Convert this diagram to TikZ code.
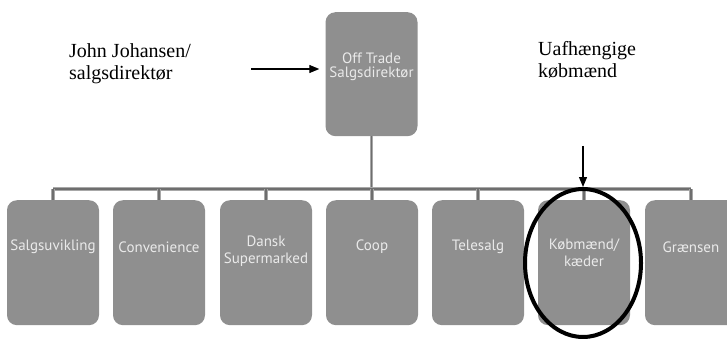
\documentclass[tikz,border=0pt]{standalone}
\usepackage{fontspec}
\setmainfont{Liberation Serif}
\newfontfamily\boxfont{PT Sans}
\usetikzlibrary{shapes.geometric,arrows.meta}
\definecolor{boxgray}{HTML}{8F8F8F}
\definecolor{boxtext}{HTML}{EAEAEA}
\definecolor{linedark}{HTML}{6E6E6E}
\definecolor{linelight}{HTML}{A8A8A8}
\tikzset{
  orgbox/.style={fill=boxgray, rounded corners=10pt, minimum width=92pt, minimum height=125pt, inner sep=0pt, anchor=north},
  orgtext/.style={text=boxtext, font=\boxfont\fontsize{15}{17}\selectfont, align=center, inner sep=0pt},
  conn/.style={draw=linedark, line width=1.6pt, preaction={draw=linelight, line width=3.2pt}},
  note/.style={font=\fontsize{20}{22}\selectfont, align=left, inner sep=0pt, anchor=north west},
  pointer/.style={-{Triangle[length=10pt,width=8pt]}, line width=1.2pt, draw=black},
  focus/.style={ellipse, draw=black, line width=4pt, minimum width=116pt, minimum height=148pt, inner sep=0pt}
}
\begin{document}
\begin{tikzpicture}[x=1pt,y=-1pt]
\useasboundingbox (0,0) rectangle (727,339);
% boxes
\node[orgbox, minimum height=124pt] (top) at (371.5,12) {};
\node[orgbox] (b1) at (53,200) {};
\node[orgbox] (b2) at (159,200) {};
\node[orgbox] (b3) at (266,200) {};
\node[orgbox] (b4) at (372,200) {};
\node[orgbox] (b5) at (478,200) {};
\node[orgbox] (b6) at (584,200) {};
\node[orgbox] (b7) at (691,200) {};
% texts in boxes
\node[orgtext, font=\boxfont\fontsize{15}{14}\selectfont] (ttop) at (371.5,67) {Off Trade\\Salgsdirektør};
\node[orgtext] (t1) at (53,247) {Salgsuvikling};
\node[orgtext] (t2) at (159,247) {Convenience};
\node[orgtext] (t3) at (266,251) {Dansk\\Supermarked};
\node[orgtext] (t4) at (372,247) {Coop};
\node[orgtext] (t5) at (478,247) {Telesalg};
\node[orgtext] (t6) at (584,253) {Købmænd/\\kæder};
\node[orgtext] (t7) at (691,247) {Grænsen};
% connectors
\coordinate (bar) at (0,189);
\draw[conn] (top.south) -- (top.south |- bar);
\draw[conn] (b1.north |- bar) -- (b7.north |- bar);
\foreach \b in {b1,b2,b3,b4,b5,b6,b7}{
  \draw[conn] (\b.north |- bar) -- (\b.north);
}
% notes
\node[note] (john) at (69,43) {John Johansen/\\salgsdirektør};
\node[note] (uaf) at (538,41) {Uafhængige\\købmænd};
% focus ellipse
\node[focus] (circ) at (583,263) {};
% arrows
\coordinate (a1) at (251,69);
\draw[pointer, shorten >=6pt] (a1) -- (a1 -| top.west);
\coordinate (a2) at (583,146);
\draw[pointer] (a2) -- (circ.north);
\end{tikzpicture}
\end{document}
